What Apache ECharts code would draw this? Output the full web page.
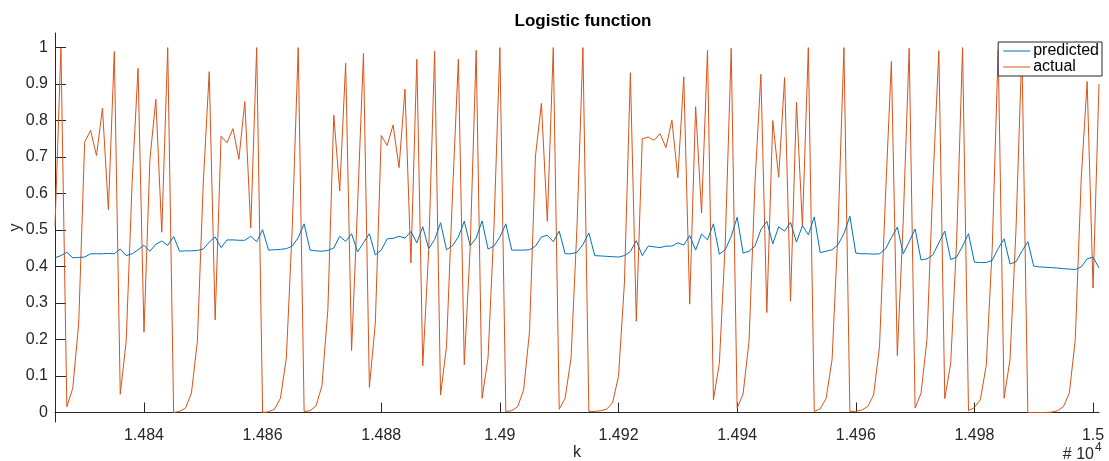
<!DOCTYPE html>
<html>
<head>
<meta charset="utf-8">
<script src="https://cdn.jsdelivr.net/npm/echarts@6/dist/echarts.min.js"></script>
<style>
  html, body { margin: 0; padding: 0; background: #fff; }
  #chart { width: 1109px; height: 461px; }
</style>
</head>
<body>
<div id="chart"></div>
<script>
// first sample index (k), one sample per step
const kStart = 14825;

const actual = [
  0.51, 0.998, 0.016, 0.067, 0.245, 0.741, 0.773, 0.704, 0.834, 0.556,
  0.989, 0.05, 0.195, 0.63, 0.943, 0.22, 0.694, 0.858, 0.494, 1.0,
  0.0, 0.003, 0.012, 0.053, 0.195, 0.63, 0.934, 0.254, 0.757, 0.739,
  0.778, 0.694, 0.852, 0.506, 1.0, 0.0, 0.002, 0.009, 0.039, 0.149,
  0.507, 1.0, 0.003, 0.005, 0.018, 0.073, 0.282, 0.815, 0.607, 0.957,
  0.17, 0.565, 0.984, 0.069, 0.245, 0.759, 0.732, 0.788, 0.671, 0.886,
  0.41, 0.968, 0.128, 0.446, 0.99, 0.048, 0.181, 0.593, 0.968, 0.131,
  0.455, 0.993, 0.039, 0.149, 0.507, 1.0, 0.003, 0.005, 0.016, 0.062,
  0.222, 0.703, 0.847, 0.524, 1.0, 0.009, 0.039, 0.15, 0.51, 1.0,
  0.003, 0.003, 0.005, 0.009, 0.027, 0.099, 0.357, 0.931, 0.25, 0.75,
  0.755, 0.746, 0.764, 0.726, 0.801, 0.643, 0.92, 0.297, 0.838, 0.547,
  0.993, 0.035, 0.135, 0.467, 0.998, 0.012, 0.051, 0.195, 0.628, 0.927,
  0.274, 0.8, 0.645, 0.918, 0.305, 0.851, 0.51, 1.0, 0.003, 0.01,
  0.039, 0.145, 0.5, 1.0, 0.003, 0.003, 0.007, 0.016, 0.048, 0.181,
  0.59, 0.962, 0.156, 0.527, 0.998, 0.012, 0.053, 0.2, 0.63, 0.991,
  0.038, 0.135, 0.47, 1.0, 0.005, 0.014, 0.035, 0.13, 0.45, 0.994,
  0.039, 0.145, 0.5, 0.995, 0.0, 0.0, 0.0, 0.0, 0.001, 0.005,
  0.016, 0.053, 0.2, 0.64, 0.907, 0.341, 0.9
];

const predicted = [
  0.424, 0.43, 0.439, 0.424, 0.425, 0.426, 0.435, 0.435, 0.435, 0.436,
  0.435, 0.448, 0.43, 0.435, 0.446, 0.458, 0.442, 0.461, 0.47, 0.458,
  0.482, 0.442, 0.443, 0.443, 0.444, 0.448, 0.467, 0.481, 0.452, 0.473,
  0.473, 0.472, 0.472, 0.483, 0.468, 0.501, 0.445, 0.446, 0.447, 0.449,
  0.456, 0.479, 0.517, 0.445, 0.443, 0.442, 0.444, 0.451, 0.483, 0.469,
  0.49, 0.44, 0.465, 0.49, 0.432, 0.445, 0.476, 0.477, 0.483, 0.478,
  0.496, 0.465, 0.509, 0.449, 0.474, 0.52, 0.446, 0.457, 0.481, 0.524,
  0.457, 0.478, 0.525, 0.448, 0.456, 0.481, 0.517, 0.445, 0.445, 0.445,
  0.446, 0.456, 0.481, 0.486, 0.468, 0.497, 0.435, 0.435, 0.439, 0.46,
  0.492, 0.43, 0.429, 0.428, 0.427, 0.426, 0.43, 0.441, 0.471, 0.43,
  0.456, 0.454, 0.452, 0.456, 0.456, 0.465, 0.459, 0.485, 0.445, 0.489,
  0.473, 0.517, 0.434, 0.446, 0.483, 0.535, 0.437, 0.442, 0.456, 0.501,
  0.524, 0.462, 0.509, 0.497, 0.521, 0.467, 0.512, 0.487, 0.536, 0.438,
  0.442, 0.446, 0.46, 0.49, 0.538, 0.437, 0.435, 0.435, 0.434, 0.435,
  0.448, 0.479, 0.508, 0.435, 0.468, 0.503, 0.418, 0.421, 0.432, 0.465,
  0.497, 0.419, 0.426, 0.456, 0.49, 0.412, 0.411, 0.411, 0.417, 0.449,
  0.476, 0.407, 0.413, 0.442, 0.468, 0.401, 0.399, 0.398, 0.397, 0.396,
  0.394, 0.393, 0.392, 0.399, 0.421, 0.426, 0.396
];

const xTicks = [14840, 14860, 14880, 14900, 14920, 14940, 14960, 14980, 15000];
const xTickLabels = ['1.484', '1.486', '1.488', '1.49', '1.492', '1.494', '1.496', '1.498', '1.5'];
const yTicks = [0, 0.1, 0.2, 0.3, 0.4, 0.5, 0.6, 0.7, 0.8, 0.9, 1];
const yTickLabels = ['0', '0.1', '0.2', '0.3', '0.4', '0.5', '0.6', '0.7', '0.8', '0.9', '1'];

const FONT = 'Liberation Sans, Arial, Helvetica, sans-serif';
const INK = '#262626';
const BLUE = '#0072BD';
const ORANGE = '#D95319';

const toPairs = arr => arr.map((v, i) => [kStart + i, v]);

const chart = echarts.init(document.getElementById('chart'), null, { renderer: 'canvas' });

chart.setOption({
  animation: false,
  backgroundColor: '#fff',
  textStyle: { fontFamily: FONT },
  title: {
    text: 'Logistic function',
    left: 578,
    top: 8,
    textAlign: 'center',
    textStyle: { fontSize: 17, fontWeight: 'bold', color: '#000', fontFamily: FONT }
  },
  grid: { left: 55, right: 10, top: 33, bottom: 39, containLabel: false, outerBoundsMode: 'none' },
  legend: {
    orient: 'vertical',
    right: 7,
    top: 42,
    itemGap: 0,
    itemWidth: 27,
    itemHeight: 1,
    icon: 'rect',
    padding: [1, 3, 1, 5],
    borderColor: INK,
    borderWidth: 1,
    backgroundColor: '#fff',
    textStyle: { fontSize: 16, color: '#000', fontFamily: FONT, padding: [0, 0, 0, -2] },
    data: [
      { name: 'predicted', itemStyle: { color: BLUE } },
      { name: 'actual', itemStyle: { color: ORANGE } }
    ]
  },
  xAxis: {
    type: 'value',
    min: 14825,
    max: 15001,
    name: 'k',
    nameLocation: 'middle',
    nameGap: 23,
    nameMoveOverlap: false,
    nameTextStyle: { fontSize: 16, color: INK },
    splitLine: { show: false },
    axisLine: { lineStyle: { color: INK, width: 1 } },
    axisTick: { inside: true, length: 10, customValues: xTicks, lineStyle: { color: INK } },
    axisLabel: {
      customValues: xTicks,
      formatter: v => xTickLabels[xTicks.indexOf(v)],
      fontSize: 16,
      color: INK,
      margin: 6
    }
  },
  yAxis: {
    type: 'value',
    min: -0.026,
    max: 1.04,
    name: 'y',
    nameLocation: 'middle',
    nameRotate: 90,
    nameGap: 31,
    nameMoveOverlap: false,
    nameTextStyle: { fontSize: 16, color: INK },
    splitLine: { show: false },
    axisLine: { show: true, lineStyle: { color: INK, width: 1 } },
    axisTick: { show: true, inside: true, length: 11, customValues: yTicks, lineStyle: { color: INK } },
    axisLabel: {
      customValues: yTicks,
      formatter: v => yTickLabels[yTicks.indexOf(v)],
      fontSize: 16,
      color: INK,
      margin: 7
    }
  },
  graphic: [
    {
      type: 'text',
      right: 15,
      top: 447,
      style: { text: '# 10', fontSize: 16, fill: INK, fontFamily: FONT }
    },
    {
      type: 'text',
      left: 1095,
      top: 442,
      style: { text: '4', fontSize: 12, fill: INK, fontFamily: FONT }
    }
  ],
  series: [
    {
      name: 'predicted',
      type: 'line',
      data: toPairs(predicted),
      showSymbol: false,
      symbol: 'none',
      lineStyle: { color: BLUE, width: 1 },
      itemStyle: { color: BLUE },
      z: 3
    },
    {
      name: 'actual',
      type: 'line',
      data: toPairs(actual),
      showSymbol: false,
      symbol: 'none',
      lineStyle: { color: ORANGE, width: 1 },
      itemStyle: { color: ORANGE },
      z: 2
    }
  ]
});
</script>
</body>
</html>
